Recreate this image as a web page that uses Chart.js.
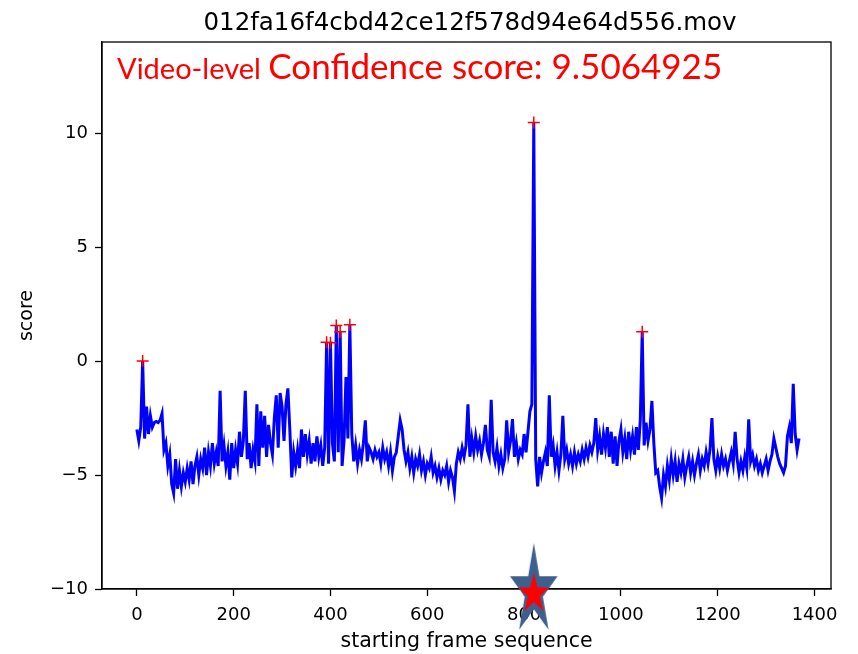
<!DOCTYPE html>
<html>
<head>
<meta charset="utf-8">
<script src="https://cdn.jsdelivr.net/npm/chart.js@4/dist/chart.umd.min.js"></script>
<style>
  html, body { margin: 0; padding: 0; background: #ffffff; }
  canvas { display: block; }
</style>
</head>
<body>
<canvas id="chart" width="858" height="654"></canvas>
<script>
// Per-window scores, one value every FRAME_STEP starting frames.
const FRAME_STEP = 4;
const scores = [
  -3.0, -3.5, -2.9, 0.0, -3.4, -2.0, -3.2, -2.4, -2.9, -2.7,
  -2.65, -2.7, -2.6, -2.3, -3.9, -3.6, -4.6, -4.1, -5.4, -5.8,
  -4.3, -5.6, -4.8, -5.5, -4.9, -5.3, -4.7, -5.2, -4.4, -5.4,
  -4.6, -4.2, -5.0, -4.3, -4.7, -3.8, -5.0, -4.0, -4.6, -3.6,
  -4.5, -4.0, -4.6, -1.3, -4.4, -3.7, -4.6, -4.0, -5.2, -3.6,
  -4.7, -3.9, -4.5, -3.1, -4.2, -3.5, -1.3, -4.3, -3.6, -4.7,
  -3.9, -4.4, -1.9, -4.6, -2.2, -3.8, -2.4, -4.2, -2.8, -3.6,
  -4.1, -2.5, -1.5, -3.8, -1.4, -2.0, -3.5, -1.9, -1.2, -3.0,
  -5.1, -4.0, -4.6, -3.9, -4.7, -3.0, -4.2, -3.2, -4.1, -3.5,
  -4.5, -3.6, -4.4, -3.3, -4.2, -3.7, -4.6, -3.8, 0.83, -4.5,
  0.8, -3.6, -4.4, 1.56, -4.0, 1.29, -4.6, -3.5, -0.7, -3.4,
  1.59, -3.2, -4.4, -3.7, -4.5, -3.9, -4.3, -3.6, -2.6, -4.4,
  -3.8, -4.0, -4.3, -3.9, -4.2, -4.0, -4.5, -3.8, -4.3, -4.0,
  -4.6, -4.0, -4.8, -4.2, -4.0, -3.3, -2.6, -3.0, -3.9, -4.4,
  -4.0, -4.7, -4.2, -4.9, -4.3, -4.6, -4.1, -4.8, -4.4, -5.0,
  -4.5, -4.7, -4.2, -4.9, -4.6, -5.1, -4.7, -5.2, -4.8, -5.0,
  -4.6, -5.3, -4.8, -5.1, -5.7, -4.5, -4.0, -4.3, -3.8, -4.2,
  -3.7, -1.9, -4.2, -3.4, -4.0, -3.3, -3.9, -3.5, -4.1, -3.6,
  -2.8, -3.9, -4.2, -1.7, -4.0, -4.4, -3.8, -4.6, -4.1, -4.7,
  -4.3, -2.6, -4.0, -3.5, -2.55, -4.2, -3.6, -4.3, -3.9, -4.1,
  -3.2, -4.0, -3.1, -2.2, -1.9, 10.47, -4.3, -5.5, -4.2, -4.9,
  -4.4, -4.0, -4.6, -1.5, -4.2, -3.7, -4.6, -4.0, -4.8, -4.1,
  -2.4, -4.3, -3.9, -4.5, -4.1, -4.6, -4.0, -4.5, -4.1, -4.4,
  -3.9, -4.3, -3.8, -4.2, -3.7, -4.0, -3.6, -2.5, -3.9, -3.3,
  -4.1, -3.2, -3.8, -2.9, -4.2, -3.1, -4.5, -3.3, -4.6, -3.5,
  -3.0, -4.0, -3.4, -4.3, -3.1, -3.9, -3.3, -4.1, -2.9, -3.9,
  -2.6, 1.29, -3.7, -2.7, -3.5, -3.0, -1.75, -3.6, -4.9, -4.8,
  -5.5, -6.0, -5.0, -5.5, -4.6, -5.2, -4.3, -5.0, -4.4, -5.3,
  -4.5, -4.9, -4.3, -5.1, -4.6, -4.2, -4.9, -4.4, -5.0, -4.5,
  -4.1, -4.8, -4.3, -4.6, -4.0, -4.5, -3.9, -2.5, -4.3, -4.8,
  -4.2, -4.7, -4.1, -4.6, -4.3, -4.8, -4.4, -4.0, -4.5, -3.1,
  -4.3, -4.9, -4.4, -4.8, -4.2, -4.7, -2.55, -4.4, -4.1, -4.6,
  -4.3, -4.8, -4.5, -4.9, -4.6, -4.3, -4.8, -4.4, -4.1, -3.4,
  -3.8, -4.2, -4.5, -4.7, -4.9, -4.6, -3.3, -2.9, -3.6, -1.0,
  -3.2, -3.9, -3.4
];
const frames = scores.map((_, i) => i * FRAME_STEP);

// Frames flagged as local peaks (red "+").
const peakFrames = [12, 392, 400, 412, 420, 440, 820, 1044];
const peakScores = peakFrames.map(f => scores[f / FRAME_STEP]);

// Highlighted frame marker on the x axis.
const starFrame = 820;
const starScore = -10;

const xTicks = [0, 200, 400, 600, 800, 1000, 1200, 1400];
const yTicks = [-10, -5, 0, 5, 10];

const titleText = '012fa16f4cbd42ce12f578d94e64d556.mov';
const videoLabel = 'Video-level';
const confidenceLabel = 'Confidence score: 9.5064925';

// Star image used as the point style of the highlighted frame.
function starPath(ctx, cx, cy, rx, ry) {
  ctx.beginPath();
  for (let k = 0; k < 10; k++) {
    const a = -Math.PI / 2 + k * Math.PI / 5;
    const r = k % 2 ? 0.382 : 1;
    ctx.lineTo(cx + Math.cos(a) * r * rx, cy + Math.sin(a) * r * ry);
  }
  ctx.closePath();
}
const starImg = document.createElement('canvas');
starImg.width = 56;
starImg.height = 104;
(function () {
  const s = starImg.getContext('2d');
  starPath(s, 28, 54, 25, 48);
  s.fillStyle = '#3F5F8C';
  s.fill();
  starPath(s, 28, 57, 16, 21);
  s.fillStyle = '#FF0000';
  s.fill();
})();

const AXIS_FONT = 'DejaVu Sans';
const minus = v => (v < 0 ? '\u2212' + Math.abs(v) : String(v));

// Frame box plus title and red caption text.
const decorations = {
  id: 'decorations',
  beforeDatasetsDraw(chart) {
    const { ctx, chartArea: a } = chart;
    ctx.save();
    ctx.strokeStyle = '#000';
    ctx.lineWidth = 1.3;
    ctx.strokeRect(a.left, a.top, a.right - a.left, a.bottom - a.top);
    ctx.restore();
  },
  afterDraw(chart) {
    const { ctx, chartArea: a } = chart;
    ctx.save();
    ctx.fillStyle = '#000';
    ctx.font = '24.5px "' + AXIS_FONT + '"';
    ctx.textAlign = 'center';
    ctx.textBaseline = 'alphabetic';
    ctx.fillText(titleText, 470, 30);

    ctx.fillStyle = '#FF0000';
    ctx.textAlign = 'left';
    ctx.font = '29px Lato';
    const x0 = a.left + 15;
    ctx.fillText(videoLabel, x0, 79);
    const w = ctx.measureText(videoLabel + ' ').width;
    ctx.font = '35px Lato';
    ctx.fillText(confidenceLabel, x0 + w, 79);
    ctx.restore();
  }
};

new Chart(document.getElementById('chart'), {
  type: 'scatter',
  data: {
    datasets: [
      {
        data: [{ x: starFrame, y: starScore }],
        pointStyle: starImg,
        pointRadius: 26,
        clip: false
      },
      {
        data: peakFrames.map((f, i) => ({ x: f, y: peakScores[i] })),
        pointStyle: 'cross',
        pointRadius: 6,
        borderColor: '#FF0000',
        borderWidth: 1.5,
        clip: false
      },
      {
        data: frames.map((f, i) => ({ x: f, y: scores[i] })),
        showLine: true,
        borderColor: '#0000FF',
        borderWidth: 3,
        pointRadius: 0,
        tension: 0
      }
    ]
  },
  options: {
    responsive: false,
    animation: false,
    events: [],
    layout: { padding: { top: 42, right: 21, left: 0, bottom: 0 } },
    plugins: { legend: { display: false }, tooltip: { enabled: false }, title: { display: false } },
    scales: {
      x: {
        type: 'linear',
        min: -72,
        max: 1434,
        afterBuildTicks: s => { s.ticks = xTicks.map(v => ({ value: v })); },
        afterFit: s => { s.height = 65; },
        grid: { display: true, drawOnChartArea: false, tickLength: 7, tickColor: '#000', tickWidth: 1.3 },
        border: { display: true, color: '#000', width: 1.3 },
        ticks: { color: '#000', font: { family: AXIS_FONT, size: 18 }, padding: 9, maxRotation: 0, autoSkip: false, callback: v => minus(v) },
        title: { display: true, text: 'starting frame sequence', color: '#000', font: { family: AXIS_FONT, size: 20.5 }, padding: { top: 0, bottom: 0 } }
      },
      y: {
        type: 'linear',
        min: -10,
        max: 14,
        afterBuildTicks: s => { s.ticks = yTicks.map(v => ({ value: v })); },
        afterFit: s => { s.width = 102; },
        grid: { display: true, drawOnChartArea: false, tickLength: 7, tickColor: '#000', tickWidth: 1.3 },
        border: { display: true, color: '#000', width: 1.3 },
        ticks: { color: '#000', font: { family: AXIS_FONT, size: 18 }, padding: 7, callback: v => minus(v) },
        title: { display: true, text: 'score', color: '#000', font: { family: AXIS_FONT, size: 19 }, padding: { top: 16, bottom: 0 } }
      }
    }
  },
  plugins: [decorations]
});
</script>
</body>
</html>
